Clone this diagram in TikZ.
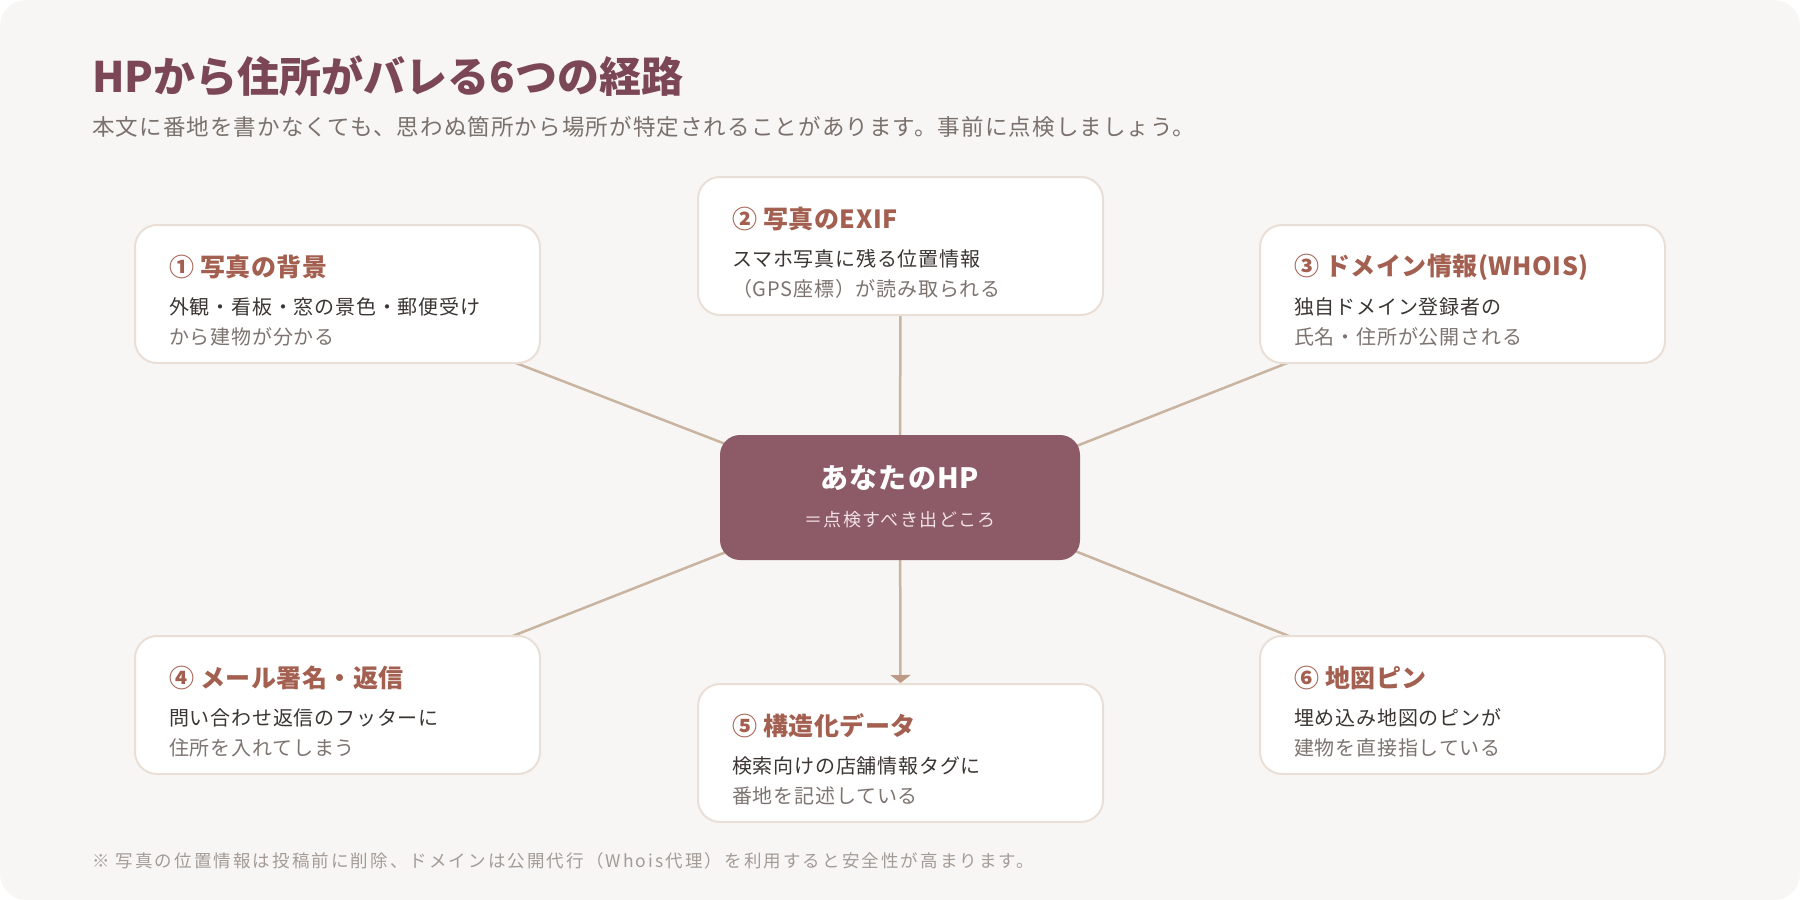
\documentclass[tikz,border=0pt]{standalone}
\usepackage{fontspec}
\setmainfont{Noto Sans CJK JP}
\usetikzlibrary{positioning,arrows.meta,calc}

\definecolor{bgc}{HTML}{F8F6F4}
\definecolor{titlec}{HTML}{7B4756}
\definecolor{subc}{HTML}{7A716C}
\definecolor{notec}{HTML}{A39B96}
\definecolor{cardline}{HTML}{EADFD6}
\definecolor{headc}{HTML}{A35F4F}
\definecolor{bodyc}{HTML}{3B3633}
\definecolor{grayc}{HTML}{7D7470}
\definecolor{hubc}{HTML}{8C5B67}
\definecolor{hubsub}{HTML}{F2E2E5}
\definecolor{linkc}{HTML}{C8B4A0}
\definecolor{tipc}{HTML}{BC9A86}

\pgfdeclarelayer{back}
\pgfdeclarelayer{bg}
\pgfsetlayers{back,bg,main}

\tikzset{
  txt/.style={anchor=west,inner sep=0pt},
  card/.style={draw=cardline,line width=2pt,fill=white,rounded corners=22pt,
    minimum width=405pt,minimum height=138pt,inner sep=0pt},
  head/.style={txt,text=headc,font=\fontsize{25}{30}\selectfont\bfseries\addfontfeature{LetterSpace=2}},
  lineone/.style={txt,text=bodyc,font=\fontsize{20}{24}\selectfont\addfontfeature{LetterSpace=4}},
  linetwo/.style={lineone,text=grayc},
  hub/.style={fill=hubc,rounded corners=20pt,minimum width=360pt,minimum height=125pt,inner sep=0pt},
  link/.style={draw=linkc,line width=2.5pt}
}

\begin{document}
\begin{tikzpicture}[x=1pt,y=-1pt]
\useasboundingbox (0,0) rectangle (1800,900);
\begin{pgfonlayer}{back}
\fill[bgc,rounded corners=26pt] (0,0) rectangle (1800,900);
\end{pgfonlayer}

\node[txt,text=titlec,font=\fontsize{42}{48}\selectfont\bfseries] (title) at (92,76) {HPから住所がバレる6つの経路};
\node[txt,text=subc,font=\fontsize{22.5}{26}\selectfont\addfontfeature{LetterSpace=5}] (sub) at (92,127)
  {本文に番地を書かなくても、思わぬ箇所から場所が特定されることがあります。事前に点検しましょう。};

% center
\node[hub] (hp) at (900,497.5) {};
\node[text=white,inner sep=0pt,font=\fontsize{28}{32}\selectfont\bfseries\addfontfeature{LetterSpace=4}] (hpname) at (900,478) {あなたのHP};
\node[text=hubsub,inner sep=0pt,font=\fontsize{18}{22}\selectfont\addfontfeature{LetterSpace=8}] (hpsub) at (900,520) {＝点検すべき出どころ};

% six routes
\foreach \n/\x/\y/\head/\la/\lb in {
  1/135/225/{① 写真の背景}/{外観・看板・窓の景色・郵便受け}/{から建物が分かる},
  2/698/177/{② 写真のEXIF}/{スマホ写真に残る位置情報}/{（GPS座標）が読み取られる},
  3/1260/225/{③ ドメイン情報(WHOIS)}/{独自ドメイン登録者の}/{氏名・住所が公開される},
  4/135/636/{④ メール署名・返信}/{問い合わせ返信のフッターに}/{住所を入れてしまう},
  5/698/684/{⑤ 構造化データ}/{検索向けの店舗情報タグに}/{番地を記述している},
  6/1260/636/{⑥ 地図ピン}/{埋め込み地図のピンが}/{建物を直接指している}}{
  \node[card] (b\n) at (\x+202.5,\y+69) {};
  \node[head] (h\n) at (\x+34,\y+42) {\head};
  \node[lineone] (l\n) at (\x+34,\y+82) {\la};
  \node[linetwo] (m\n) at (\x+34,\y+112) {\lb};
}

\begin{pgfonlayer}{bg}
\draw[link] ($(hp.center)+(0,14)$) -- (b1.center);
\draw[link] (hp.center) -- (b2.center);
\draw[link] ($(hp.center)+(0,18)$) -- (b3.center);
\draw[link] ($(hp.center)+(0,-14)$) -- (b4.center);
\draw[link,-{Triangle[width=20pt,length=8pt,fill=tipc,color=tipc]}] (hp.center) -- (b5.north);
\draw[link] ($(hp.center)+(0,-16)$) -- (b6.center);
\end{pgfonlayer}

\node[txt,text=notec,font=\fontsize{17.5}{22}\selectfont\addfontfeature{LetterSpace=12}] (note) at (92,861)
  {※ 写真の位置情報は投稿前に削除、ドメインは公開代行（Whois代理）を利用すると安全性が高まります。};
\end{tikzpicture}
\end{document}
